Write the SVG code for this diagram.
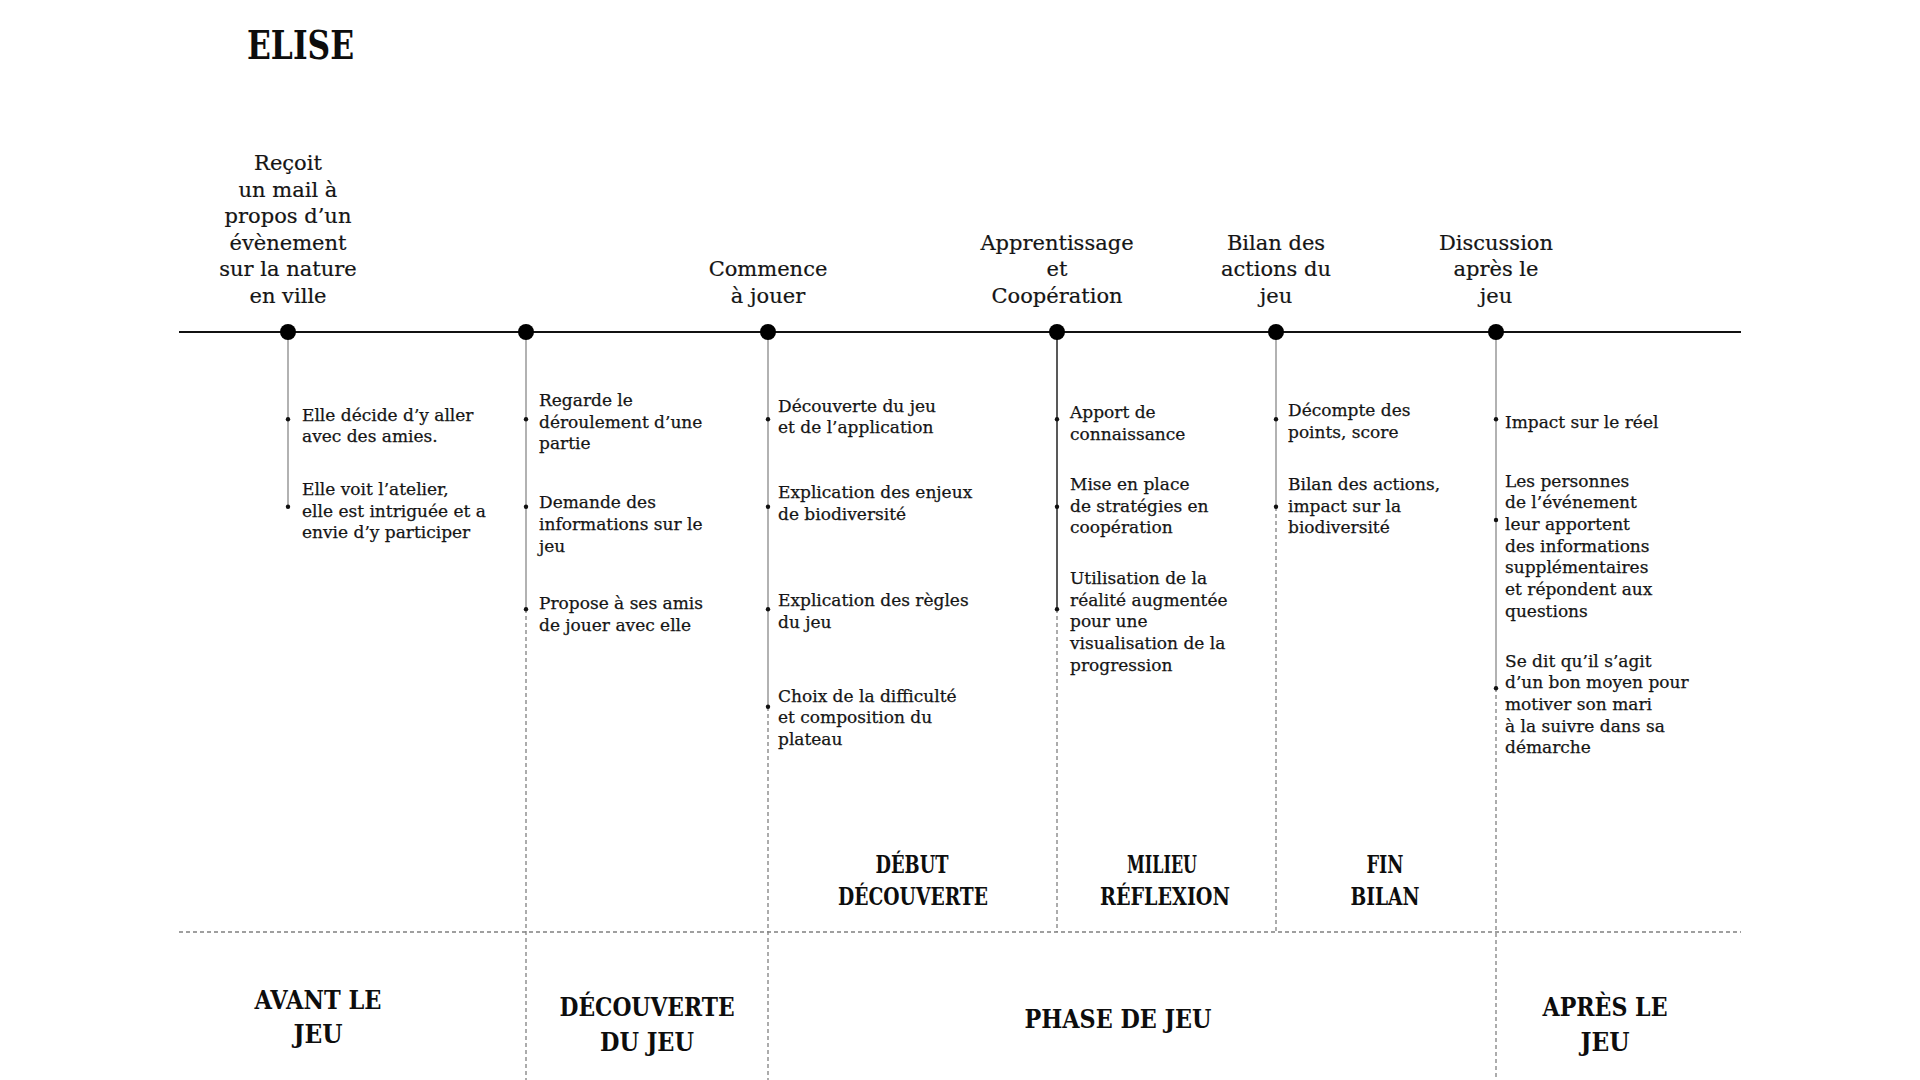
<svg xmlns="http://www.w3.org/2000/svg" width="1920" height="1080" viewBox="0 0 1920 1080">
<style>
.lbl{font-family:"DejaVu Serif","Liberation Serif",serif;font-size:21px;fill:#151515;stroke:#151515;stroke-width:0.2;text-anchor:middle}
.txt{font-family:"DejaVu Serif","Liberation Serif",serif;font-size:17px;fill:#151515;stroke:#151515;stroke-width:0.25}
.hd{font-family:"DejaVu Serif","Liberation Serif",serif;font-weight:bold;fill:#0d0d0d;text-anchor:middle}
.hb{font-size:26px}
.hs{font-size:24px}
.tl{stroke:#111;stroke-width:2;fill:none}
.solid{stroke:#999;stroke-width:1.5;fill:none}
.dark{stroke:#222;stroke-width:1.5;fill:none}
.dash{stroke:#808080;stroke-width:1.3;stroke-dasharray:4 3;fill:none}
.dot{fill:#000}
.bul{fill:#111}
</style>
<rect width="1920" height="1080" fill="#fff"/>
<text x="247" y="59" font-family="DejaVu Serif, Liberation Serif, serif" font-weight="bold" font-size="40" fill="#0d0d0d" textLength="107" lengthAdjust="spacingAndGlyphs">ELISE</text>

<g id="connectors">
<line class="tl" x1="179" y1="332" x2="1741" y2="332"/>
<line class="solid" x1="288" y1="332" x2="288" y2="507"/>
<line class="solid" x1="526" y1="332" x2="526" y2="609"/>
<line class="dash" x1="526" y1="609" x2="526" y2="1080"/>
<line class="solid" x1="768" y1="332" x2="768" y2="707"/>
<line class="dash" x1="768" y1="707" x2="768" y2="1080"/>
<line class="dark" x1="1057" y1="332" x2="1057" y2="609"/>
<line class="dash" x1="1057" y1="609" x2="1057" y2="932"/>
<line class="solid" x1="1276" y1="332" x2="1276" y2="507"/>
<line class="dash" x1="1276" y1="507" x2="1276" y2="932"/>
<line class="solid" x1="1496" y1="332" x2="1496" y2="688"/>
<line class="dash" x1="1496" y1="688" x2="1496" y2="1080"/>
<line class="dash" x1="179" y1="932" x2="1741" y2="932"/>
</g>

<g id="step-recoit">
<circle class="dot" cx="288" cy="332" r="8"/>
<text class="lbl"><tspan x="288" y="170">Reçoit</tspan><tspan x="288" y="196.6">un mail à</tspan><tspan x="288" y="223.2">propos d’un</tspan><tspan x="288" y="249.8">évènement</tspan><tspan x="288" y="276.4">sur la nature</tspan><tspan x="288" y="303">en ville</tspan></text>
<circle class="bul" cx="288" cy="419.3" r="2.2"/>
<text class="txt"><tspan x="302" y="420.7">Elle décide d’y aller</tspan><tspan x="302" y="442.3">avec des amies.</tspan></text>
<circle class="bul" cx="288" cy="506.7" r="2.2"/>
<text class="txt"><tspan x="302" y="495">Elle voit l’atelier,</tspan><tspan x="302" y="516.7">elle est intriguée et a</tspan><tspan x="302" y="538.3">envie d’y participer</tspan></text>
</g>

<g id="step-decouverte">
<circle class="dot" cx="526" cy="332" r="8"/>
<circle class="bul" cx="526" cy="419.3" r="2.2"/>
<text class="txt"><tspan x="539" y="406">Regarde le</tspan><tspan x="539" y="427.7">déroulement d’une</tspan><tspan x="539" y="449.3">partie</tspan></text>
<circle class="bul" cx="526" cy="506.7" r="2.2"/>
<text class="txt"><tspan x="539" y="508.3">Demande des</tspan><tspan x="539" y="530">informations sur le</tspan><tspan x="539" y="551.7">jeu</tspan></text>
<circle class="bul" cx="526" cy="609.3" r="2.2"/>
<text class="txt"><tspan x="539" y="609.3">Propose à ses amis</tspan><tspan x="539" y="631">de jouer avec elle</tspan></text>
</g>

<g id="step-commence">
<circle class="dot" cx="768" cy="332" r="8"/>
<text class="lbl"><tspan x="768" y="276.4">Commence</tspan><tspan x="768" y="303">à jouer</tspan></text>
<circle class="bul" cx="768" cy="419.3" r="2.2"/>
<text class="txt"><tspan x="778" y="411.7">Découverte du jeu</tspan><tspan x="778" y="433.3">et de l’application</tspan></text>
<circle class="bul" cx="768" cy="506.7" r="2.2"/>
<text class="txt"><tspan x="778" y="498.3">Explication des enjeux</tspan><tspan x="778" y="520">de biodiversité</tspan></text>
<circle class="bul" cx="768" cy="609.3" r="2.2"/>
<text class="txt"><tspan x="778" y="606">Explication des règles</tspan><tspan x="778" y="627.7">du jeu</tspan></text>
<circle class="bul" cx="768" cy="706.7" r="2.2"/>
<text class="txt"><tspan x="778" y="701.7">Choix de la difficulté</tspan><tspan x="778" y="723.3">et composition du</tspan><tspan x="778" y="745">plateau</tspan></text>
</g>

<g id="step-apprentissage">
<circle class="dot" cx="1057" cy="332" r="8"/>
<text class="lbl"><tspan x="1057" y="249.8">Apprentissage</tspan><tspan x="1057" y="276.4">et</tspan><tspan x="1057" y="303">Coopération</tspan></text>
<circle class="bul" cx="1057" cy="419.3" r="2.2"/>
<text class="txt"><tspan x="1070" y="418.3">Apport de</tspan><tspan x="1070" y="440">connaissance</tspan></text>
<circle class="bul" cx="1057" cy="506.7" r="2.2"/>
<text class="txt"><tspan x="1070" y="490">Mise en place</tspan><tspan x="1070" y="511.7">de stratégies en</tspan><tspan x="1070" y="533.3">coopération</tspan></text>
<circle class="bul" cx="1057" cy="609.3" r="2.2"/>
<text class="txt"><tspan x="1070" y="584">Utilisation de la</tspan><tspan x="1070" y="605.7">réalité augmentée</tspan><tspan x="1070" y="627.3">pour une</tspan><tspan x="1070" y="649">visualisation de la</tspan><tspan x="1070" y="670.7">progression</tspan></text>
</g>

<g id="step-bilan">
<circle class="dot" cx="1276" cy="332" r="8"/>
<text class="lbl"><tspan x="1276" y="249.8">Bilan des</tspan><tspan x="1276" y="276.4">actions du</tspan><tspan x="1276" y="303">jeu</tspan></text>
<circle class="bul" cx="1276" cy="419.3" r="2.2"/>
<text class="txt"><tspan x="1288" y="416">Décompte des</tspan><tspan x="1288" y="437.7">points, score</tspan></text>
<circle class="bul" cx="1276" cy="506.7" r="2.2"/>
<text class="txt"><tspan x="1288" y="490">Bilan des actions,</tspan><tspan x="1288" y="511.7">impact sur la</tspan><tspan x="1288" y="533.3">biodiversité</tspan></text>
</g>

<g id="step-discussion">
<circle class="dot" cx="1496" cy="332" r="8"/>
<text class="lbl"><tspan x="1496" y="249.8">Discussion</tspan><tspan x="1496" y="276.4">après le</tspan><tspan x="1496" y="303">jeu</tspan></text>
<circle class="bul" cx="1496" cy="419.3" r="2.2"/>
<text class="txt"><tspan x="1505" y="428.3">Impact sur le réel</tspan></text>
<circle class="bul" cx="1496" cy="520" r="2.2"/>
<text class="txt"><tspan x="1505" y="486.7">Les personnes</tspan><tspan x="1505" y="508.3">de l’événement</tspan><tspan x="1505" y="530">leur apportent</tspan><tspan x="1505" y="551.7">des informations</tspan><tspan x="1505" y="573.3">supplémentaires</tspan><tspan x="1505" y="595">et répondent aux</tspan><tspan x="1505" y="616.7">questions</tspan></text>
<circle class="bul" cx="1496" cy="688.3" r="2.2"/>
<text class="txt"><tspan x="1505" y="666.7">Se dit qu’il s’agit</tspan><tspan x="1505" y="688.3">d’un bon moyen pour</tspan><tspan x="1505" y="710">motiver son mari</tspan><tspan x="1505" y="731.7">à la suivre dans sa</tspan><tspan x="1505" y="753.3">démarche</tspan></text>
</g>

<g id="sub-debut">
<text class="hd hs" x="912" y="873" textLength="73" lengthAdjust="spacingAndGlyphs">DÉBUT</text>
<text class="hd hs" x="913" y="905" textLength="150" lengthAdjust="spacingAndGlyphs">DÉCOUVERTE</text>
</g>
<g id="sub-milieu">
<text class="hd hs" x="1162" y="873" textLength="70" lengthAdjust="spacingAndGlyphs">MILIEU</text>
<text class="hd hs" x="1165" y="905" textLength="130" lengthAdjust="spacingAndGlyphs">RÉFLEXION</text>
</g>
<g id="sub-fin">
<text class="hd hs" x="1385" y="873" textLength="37" lengthAdjust="spacingAndGlyphs">FIN</text>
<text class="hd hs" x="1385" y="905" textLength="69" lengthAdjust="spacingAndGlyphs">BILAN</text>
</g>

<g id="phase-avant">
<text class="hd hb" x="318" y="1009" textLength="127" lengthAdjust="spacingAndGlyphs">AVANT LE</text>
<text class="hd hb" x="318" y="1043" textLength="49" lengthAdjust="spacingAndGlyphs">JEU</text>
</g>
<g id="phase-decouverte">
<text class="hd hb" x="647" y="1016" textLength="175" lengthAdjust="spacingAndGlyphs">DÉCOUVERTE</text>
<text class="hd hb" x="647" y="1051" textLength="94" lengthAdjust="spacingAndGlyphs">DU JEU</text>
</g>
<g id="phase-jeu">
<text class="hd hb" x="1118" y="1028" textLength="187" lengthAdjust="spacingAndGlyphs">PHASE DE JEU</text>
</g>
<g id="phase-apres">
<text class="hd hb" x="1605" y="1016" textLength="125" lengthAdjust="spacingAndGlyphs">APRÈS LE</text>
<text class="hd hb" x="1605" y="1051" textLength="49" lengthAdjust="spacingAndGlyphs">JEU</text>
</g>
</svg>
